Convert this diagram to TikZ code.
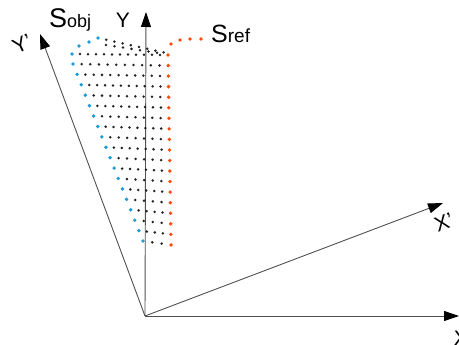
\documentclass[tikz,border=0pt]{standalone}
\usepackage{fontspec}
\setmainfont{Liberation Sans}
\usetikzlibrary{arrows.meta}
\definecolor{axisc}{HTML}{505050}
\definecolor{dotc}{HTML}{222222}
\definecolor{bluec}{HTML}{1E9BD7}
\definecolor{redc}{HTML}{FF4A10}
\tikzset{
  axis/.style={draw=axisc, line width=0.9pt, -{Triangle[length=15pt,width=10pt,color=black,fill=black]}},
  lbl/.style={inner sep=0pt, font=\fontsize{21}{21}\selectfont},
  bdot/.style={fill=dotc},
  obdot/.style={fill=bluec},
  rfdot/.style={fill=redc},
}
\begin{document}
\begin{tikzpicture}[x=1pt,y=-1pt]
\useasboundingbox (0,0) rectangle (459,345);
% axes
\coordinate (O) at (145,316);
\coordinate (Ytip) at (146,12);
\coordinate (Yptip) at (40,34);
\coordinate (Xtip) at (459,316);
\coordinate (Xptip) at (443,203);
\draw[axis] (O) -- (Ytip);
\draw[axis] (O) -- (Yptip);
\draw[axis] (O) -- (Xtip);
\draw[axis] (O) -- (Xptip);
% axis labels
\node[lbl] (ly) at (123,20) {Y};
\node[lbl, rotate=25] (lyp) at (22,44) {Y’};
\node[lbl, rotate=21] (lxp) at (444,222) {X’};
\node[lbl] (lx) at (461,338) {X};
% main grid rows
\foreach \j in {0,...,18}{
  \pgfmathsetmacro\yr{55+10.55*\j}
  \pgfmathsetmacro\xr{168+3*\j/18}
  \pgfmathsetmacro\xb{\j==0 ? 72 : 73+70*(\j-1)/17}
  \pgfmathsetmacro\yb{\j==0 ? 54 : 64+177*(\j-1)/17}
  \pgfmathtruncatemacro\n{round((\xr-\xb)/8.3)}
  \pgfmathtruncatemacro\m{\n-1}
  \foreach \i in {1,...,\m}{
    \fill[bdot] ({\xb+(\xr-\xb)*\i/\n},{\yb+(\yr-\yb)*\i/\n}) circle (1.4pt);
  }
  \fill[obdot] (\xb,\yb) circle (1.9pt);
  \fill[rfdot] (\xr,\yr) circle (1.9pt);
}
% top curved rows
\foreach \i in {1,...,8}{
  \fill[bdot] ({98+8.2*\i},{38+1.8*\i}) circle (1.4pt);
}
\foreach \i in {0,...,6}{
  \fill[bdot] ({106+8.5*\i},{45+1.3*\i}) circle (1.4pt);
}
\foreach \p in {(79,46),(89,42),(98,38)}{
  \fill[obdot] \p circle (1.9pt);
}
% reference leader
\foreach \p in {(171,44),(180,40),(190,39),(201,39)}{
  \fill[rfdot] \p circle (1.9pt);
}
% set labels
\node[inner sep=0pt, anchor=base west] (sobj) at (49,28)
  {{\fontsize{27}{27}\selectfont S}{\fontsize{18}{18}\selectfont obj}};
\node[inner sep=0pt, anchor=base west] (sref) at (211,43)
  {{\fontsize{25}{25}\selectfont S}{\fontsize{19}{19}\selectfont ref}};
\end{tikzpicture}
\end{document}
